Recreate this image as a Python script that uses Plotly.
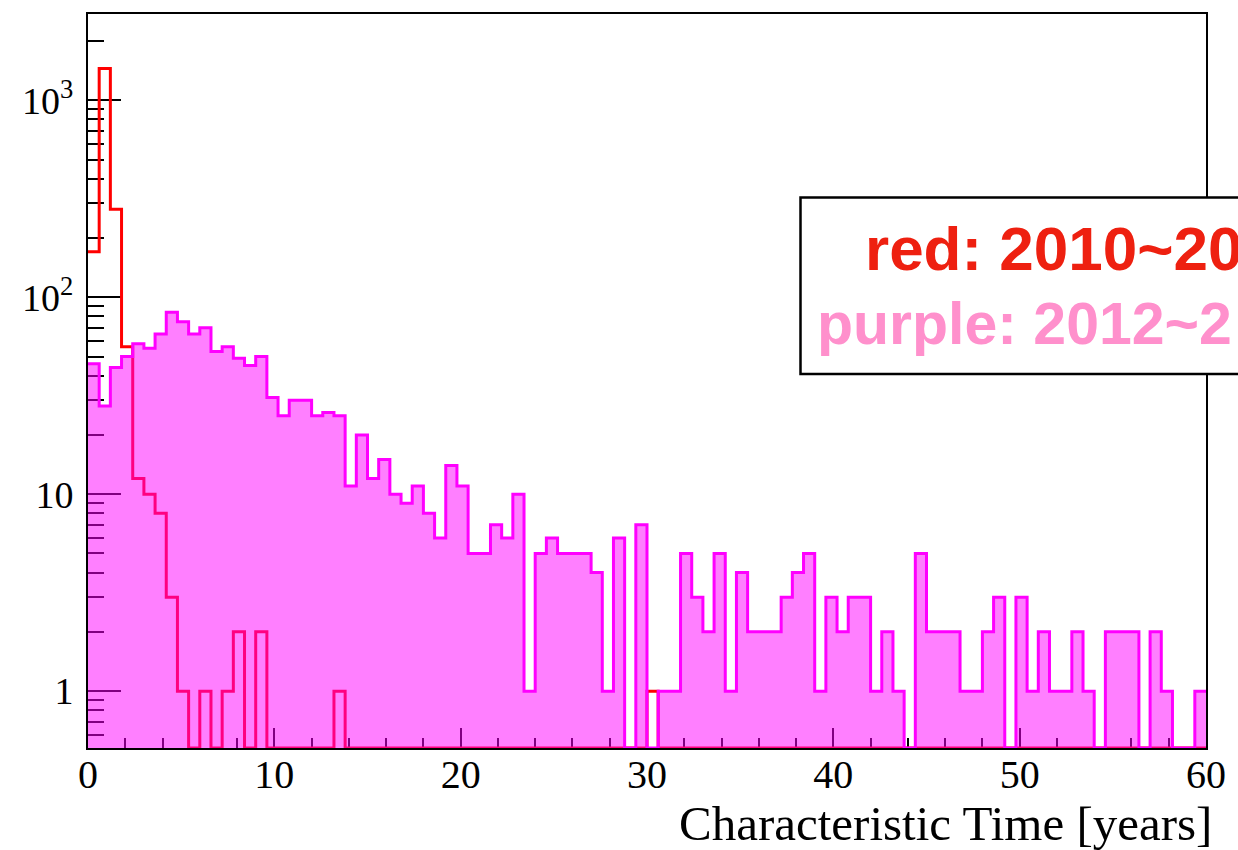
import numpy as np
import plotly.graph_objects as go

# ---------------- data ----------------
X_MIN, X_MAX, N_BINS = 0.0, 60.0, 100

red_counts = [
    170, 1450, 280, 56, 12, 10, 8, 3, 1, 0,
    1, 0, 1, 2, 0, 2, 0, 0, 0, 0,
    0, 0, 1, 0, 0, 0, 0, 0, 0, 0,
    0, 0, 0, 0, 0, 0, 0, 0, 0, 0,
    0, 0, 0, 0, 0, 0, 0, 0, 0, 0,
    1, 0, 0, 0, 0, 0, 0, 0, 0, 0,
    0, 0, 0, 0, 0, 0, 0, 0, 0, 0,
    0, 0, 0, 0, 0, 0, 0, 0, 0, 0,
    0, 0, 0, 0, 0, 0, 0, 0, 0, 0,
    0, 0, 0, 0, 0, 0, 0, 0, 0, 0,
]

purple_counts = [
    46, 28, 44, 50, 58, 55, 65, 84, 75, 65,
    70, 53, 56, 49, 45, 50, 31, 25, 30, 30,
    25, 26, 25, 11, 20, 12, 15, 10, 9, 11,
    8, 6, 14, 11, 5, 5, 7, 6, 10, 1,
    5, 6, 5, 5, 5, 4, 1, 6, 0, 7,
    0, 1, 1, 5, 3, 2, 5, 1, 4, 2,
    2, 2, 3, 4, 5, 1, 3, 2, 3, 3,
    1, 2, 1, 0, 5, 2, 2, 2, 1, 1,
    2, 3, 0, 3, 1, 2, 1, 1, 2, 1,
    0, 2, 2, 2, 0, 2, 1, 0, 0, 1,
]

x_tick_vals = [0, 10, 20, 30, 40, 50, 60]
y_tick_vals = [1, 10, 100, 1000]
y_tick_text = ["1", "10", "10<sup>2</sup>", "10<sup>3</sup>"]
x_title = "Characteristic Time [years]"
legend_red = "red: 2010~20"
legend_purple = "purple: 2012~2"

# ---------------- helpers ----------------
Y_LOG_RANGE = [-0.2886, 3.438]
floor = 10 ** Y_LOG_RANGE[0]
edges = np.linspace(X_MIN, X_MAX, N_BINS + 1)


def step_xy(counts):
    ys = [c if c > 0 else floor for c in counts]
    return list(edges), ys + [ys[-1]]


rx, ry = step_xy(red_counts)
px, py = step_xy(purple_counts)

fig = go.Figure()
fig.add_trace(go.Scatter(
    x=rx, y=ry, mode="lines", line=dict(color="#ff0000", width=3, shape="hv"),
    hoverinfo="skip", showlegend=False))
fig.add_trace(go.Scatter(
    x=[X_MIN, X_MAX], y=[floor, floor], mode="lines",
    line=dict(width=0, color="rgba(0,0,0,0)"), hoverinfo="skip", showlegend=False))
fig.add_trace(go.Scatter(
    x=px, y=py, mode="lines", line=dict(color="#ff00ff", width=3, shape="hv"),
    fill="tonexty", fillcolor="rgba(255,0,255,0.5)",
    hoverinfo="skip", showlegend=False))

minor_y = [v * 10 ** d for d in range(-1, 4) for v in range(2, 10)]
minor_y = [v for v in minor_y if floor <= v <= 10 ** Y_LOG_RANGE[1]]

serif = "Liberation Serif"

fig.update_layout(
    width=1238, height=850,
    margin=dict(l=88, r=28, t=12, b=102),
    paper_bgcolor="white", plot_bgcolor="white",
    xaxis=dict(
        range=[X_MIN, X_MAX], tickmode="array", tickvals=x_tick_vals,
        ticks="inside", ticklen=20, tickwidth=1.5, tickcolor="black",
        minor=dict(dtick=2, tick0=0, ticks="inside", ticklen=10,
                   tickwidth=1.5, tickcolor="black"),
        showline=True, linecolor="black", linewidth=2, mirror=True,
        showgrid=False, zeroline=False, layer="below traces",
        tickfont=dict(family=serif, size=40, color="black"),
        ticklabelstandoff=-10,
    ),
    yaxis=dict(
        type="log", range=Y_LOG_RANGE, tickmode="array",
        tickvals=y_tick_vals, ticktext=y_tick_text,
        ticks="inside", ticklen=33, tickwidth=1.5, tickcolor="black",
        minor=dict(tickmode="array", tickvals=minor_y, ticks="inside",
                   ticklen=16, tickwidth=1.5, tickcolor="black"),
        showline=True, linecolor="black", linewidth=2, mirror=True,
        showgrid=False, zeroline=False, layer="below traces",
        tickfont=dict(family=serif, size=38, color="black"),
        ticklabelstandoff=5,
    ),
)

# x-axis title, right aligned as in the reference
fig.add_annotation(
    x=1, y=-0.103, xref="paper", yref="paper", xanchor="right", yanchor="middle",
    xshift=8, text=x_title, showarrow=False,
    font=dict(family=serif, size=49, color="black"))

# legend box (runs off the right edge of the canvas, as in the reference)
fig.add_shape(
    type="rect", xref="paper", yref="paper",
    x0=0.6373, x1=1.25, y0=0.5095, y1=0.75,
    fillcolor="white", line=dict(color="black", width=2.5), layer="above")
fig.add_annotation(
    x=0.6934, y=0.680, xref="paper", yref="paper", xanchor="left", yanchor="middle",
    text="<b>" + legend_red + "</b>", showarrow=False,
    font=dict(family="Liberation Sans", size=62, color="#ee2010"))
fig.add_annotation(
    x=0.6506, y=0.578, xref="paper", yref="paper", xanchor="left", yanchor="middle",
    text="<b>" + legend_purple + "</b>", showarrow=False,
    font=dict(family="Liberation Sans", size=59, color="#ff90cc"))

fig.write_html("out.html")
